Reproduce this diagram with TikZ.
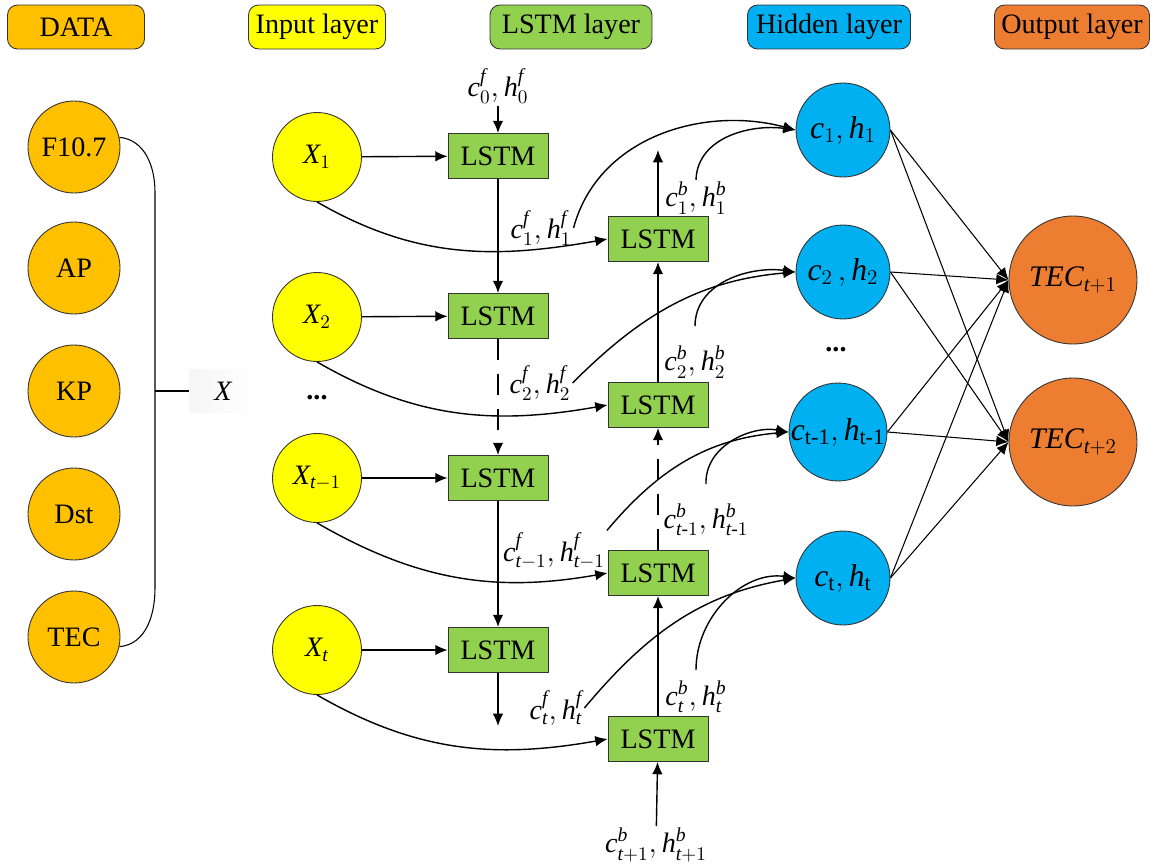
\documentclass[tikz,border=0pt]{standalone}
\usepackage{amsmath}
\usepackage{fontspec}
\setmainfont{Liberation Serif}
\usetikzlibrary{positioning,arrows.meta}
\definecolor{dataorange}{HTML}{FFC000}
\definecolor{inyellow}{HTML}{FFFF00}
\definecolor{lstmgreen}{HTML}{92D050}
\definecolor{hidblue}{HTML}{00B0F0}
\definecolor{outorange}{HTML}{ED7D31}
\newcommand{\vv}[1]{\mathit{#1}}
\newcommand{\chf}[2]{\vv{c}^{\vv{#1}}_{#2},\vv{h}^{\vv{#1}}_{#2}}

\begin{document}
\begin{tikzpicture}[x=0.02cm,y=-0.02cm,>={Latex[length=7pt,width=6pt]},
    every node/.style={font=\fontsize{16}{19}\selectfont},
    head/.style={draw=black!80,line width=0.5pt,rounded corners=0.2cm,minimum height=0.88cm,inner sep=0pt},
    dat/.style={circle,draw=black!80,line width=0.5pt,fill=dataorange,minimum size=1.84cm,inner sep=0pt},
    inp/.style={circle,draw=black!80,line width=0.5pt,fill=inyellow,minimum size=1.78cm,inner sep=0pt},
    cell/.style={rectangle,draw=black!80,line width=0.5pt,fill=lstmgreen,minimum width=2cm,minimum height=0.9cm,inner sep=0pt},
    hid/.style={circle,draw=black!80,line width=0.5pt,fill=hidblue,minimum size=1.88cm,inner sep=0pt,font=\fontsize{18}{21}\selectfont},
    outp/.style={circle,draw=black!80,line width=0.5pt,fill=outorange,minimum size=2.56cm,inner sep=0pt,font=\fontsize{17}{20}\selectfont},
    xbox/.style={minimum width=1.34cm,minimum height=0.86cm,inner sep=0pt,left color=blue!3!gray!7,right color=white},
    lab/.style={inner sep=1pt},
    link/.style={->,line width=0.8pt},
    dlink/.style={->,line width=0.8pt,dash pattern=on 12pt off 8pt},
    fan/.style={->,line width=0.6pt}]
    \useasboundingbox (0,0) rectangle (1157,865);

    \node[head,fill=dataorange,minimum width=2.74cm] (hdata) at (76,27) {DATA};
    \node[head,fill=inyellow,minimum width=2.74cm] (hin) at (317,27) {Input layer};
    \node[head,fill=lstmgreen,minimum width=3.24cm] (hlstm) at (571,27) {LSTM layer};
    \node[head,fill=hidblue,minimum width=3.26cm] (hhid) at (829,27) {Hidden layer};
    \node[head,fill=outorange,minimum width=3.1cm] (hout) at (1072,27) {Output layer};

    \node[dat] (f107) at (74,147) {F10.7};
    \node[dat] (ap) at (74,268) {AP};
    \node[dat] (kp) at (74,391) {KP};
    \node[dat] (dst) at (74,514) {Dst};
    \node[dat] (tec) at (74,637) {TEC};
    \coordinate (brtop) at (155,192);
    \coordinate (brbot) at (155,588);
    \coordinate (brmid) at (155,391);
    \node[xbox] (xin) at (223,391) {$\vv{X}$};
    \draw[line width=0.6pt] (f107.12) to[out=-5,in=90] (brtop) -- (brbot) to[out=-90,in=5] (tec.-12);
    \draw[line width=0.6pt] (brmid) -- (xin.west);

    \node[inp] (x1) at (317,157) {$\vv{X}_1$};
    \node[inp] (x2) at (317,317) {$\vv{X}_2$};
    \node (idots) at (317,398) {\textbf{...}};
    \node[inp] (x3) at (317,478) {$\vv{X}_{\vv{t}-1}$};
    \node[inp] (x4) at (317,650) {$\vv{X}_{\vv{t}}$};

    \node[cell] (f1) at (498,156) {LSTM};
    \node[cell] (f2) at (498,316) {LSTM};
    \node[cell] (f3) at (498,478) {LSTM};
    \node[cell] (f4) at (498,650) {LSTM};
    \node[cell] (b1) at (658,239) {LSTM};
    \node[cell] (b2) at (658,405) {LSTM};
    \node[cell] (b3) at (658,573) {LSTM};
    \node[cell] (b4) at (658,739) {LSTM};

    \node[lab] (lf0) at (498,86) {$\chf{f}{0}$};
    \node[lab] (lf1) at (541,228) {$\chf{f}{1}$};
    \node[lab] (lf2) at (540,383) {$\chf{f}{2}$};
    \node[lab] (lf3) at (554,551) {$\chf{f}{\vv{t}-1}$};
    \node[lab] (lf4) at (556,708) {$\chf{f}{\vv{t}}$};
    \node[lab] (lb1) at (696,198) {$\chf{b}{1}$};
    \node[lab] (lb2) at (695,362) {$\chf{b}{2}$};
    \node[lab] (lb3) at (706,520) {$\chf{b}{\vv{t}\text{-}1}$};
    \node[lab] (lb4) at (696,697) {$\chf{b}{\vv{t}}$};
    \node[lab] (lb5) at (656,845) {$\chf{b}{\vv{t}+1}$};

    \node[hid] (h1) at (843,130) {$\vv{c}_{1},\vv{h}_{1}$};
    \node[hid] (h2) at (843,272) {$\vv{c}_{2}\,,\vv{h}_{2}$};
    \node (hdots) at (836,350) {\textbf{...}};
    \node[hid] (h3) at (838,432) {$\vv{c}_{\mathrm{t\text{-}1}},\vv{h}_{\mathrm{t\text{-}1}}$};
    \node[hid] (h4) at (843,578) {$\vv{c}_{\mathrm{t}},\vv{h}_{\mathrm{t}}$};

    \node[outp] (o1) at (1073,280) {$\vv{TEC}_{\vv{t}+1}$};
    \node[outp] (o2) at (1073,442) {$\vv{TEC}_{\vv{t}+2}$};

    \coordinate (fend) at (498,726);
    \coordinate (bend) at (658,150);
    \draw[link] (lf0) -- (f1);
    \draw[link] (f1) -- (f2);
    \draw[dlink] (f2) -- (f3);
    \draw[link] (f3) -- (f4);
    \draw[link] (f4) -- (fend);
    \draw[link] (lb5) -- (b4);
    \draw[link] (b4) -- (b3);
    \draw[dlink] (b3) -- (b2);
    \draw[link] (b2) -- (b1);
    \draw[link] (b1) -- (bend);

    \draw[link] (x1) -- (f1);
    \draw[link] (x2) -- (f2);
    \draw[link] (x3) -- (f3);
    \draw[link] (x4) -- (f4);
    \draw[link] (x1.south) to[out=-30,in=190] (b1.west);
    \draw[link] (x2.south) to[out=-30,in=190] (b2.west);
    \draw[link] (x3.south) to[out=-30,in=190] (b3.west);
    \draw[link] (x4.south) to[out=-30,in=190] (b4.west);

    \draw[link] (lf1.east) to[out=75,in=165] (h1.west);
    \draw[link] (lf2.east) to[out=45,in=185] (h2.west);
    \draw[link] (lf3.north east) to[out=50,in=185] (h3.west);
    \draw[link] (lf4.east) to[out=50,in=190] (h4.west);
    \draw[link] (lb1.north) to[out=88,in=172] (h1.west);
    \draw[link] ([yshift=10pt]lb2.north) to[out=90,in=172] (h2.west);
    \draw[link] ([yshift=10pt]lb3.north) to[out=92,in=170] (h3.west);
    \draw[link] ([yshift=5pt]lb4.north) to[out=90,in=172] (h4.west);

    \draw[fan] (h1.east) -- (o1.west);
    \draw[fan] (h1.east) -- (o2.west);
    \draw[fan] (h2.east) -- (o1.west);
    \draw[fan] (h2.east) -- (o2.west);
    \draw[fan] (h3.east) -- (o1.west);
    \draw[fan] (h3.east) -- (o2.west);
    \draw[fan] (h4.east) -- (o1.west);
    \draw[fan] (h4.east) -- (o2.west);
\end{tikzpicture}
\end{document}
